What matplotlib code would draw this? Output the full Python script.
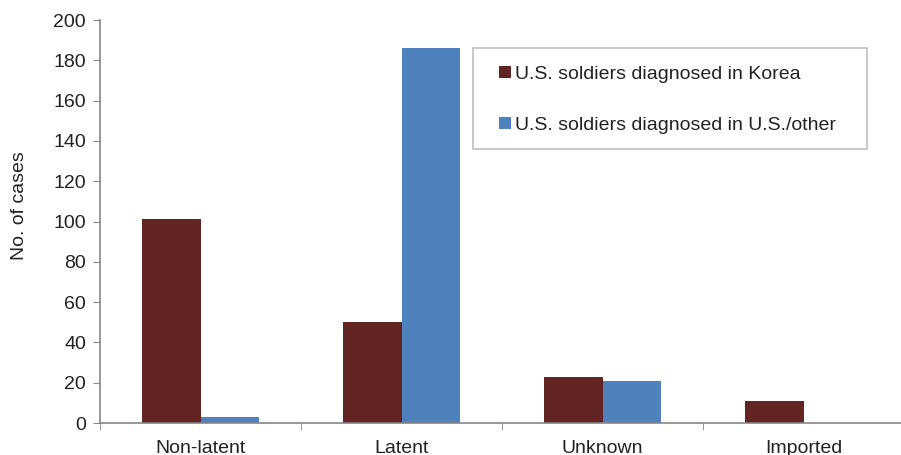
import matplotlib.pyplot as plt
from matplotlib.patches import Rectangle
import numpy as np

plt.rcParams['font.family'] = ['Liberation Sans', 'DejaVu Sans']

# Данные
categories = ['Non-latent', 'Latent', 'Unknown', 'Imported']
korea = [101, 50, 23, 11]
us_other = [3, 186, 21, 0]
series_names = ['U.S. soldiers diagnosed in Korea', 'U.S. soldiers diagnosed in U.S./other']

maroon = '#632523'
blue = '#4F81BD'
axis_grey = '#868686'
text_col = '#222222'
fs = 14

W, H = 901, 455
fig = plt.figure(figsize=(W / 100, H / 100), dpi=100)
ax = fig.add_axes([100 / W, 32 / H, 804 / W, 403 / H])

x = np.arange(len(categories)) + 0.5
w = 0.29
ax.bar(x - w / 2, korea, w, color=maroon, label=series_names[0])
ax.bar(x + w / 2, us_other, w, color=blue, label=series_names[1])

ax.set_xlim(0, len(categories))
ax.set_ylim(0, 200)
ax.set_yticks(np.arange(0, 201, 20))
ax.set_xticks(x)
ax.set_xticklabels(categories)
ax.set_xticks(np.arange(0, len(categories) + 1), minor=True)
ax.tick_params(axis='x', which='major', length=0, pad=12, labelsize=fs, colors=text_col)
ax.tick_params(axis='x', which='minor', length=5, color=axis_grey, direction='out')
ax.tick_params(axis='y', length=5, color=axis_grey, labelsize=fs, labelcolor=text_col, pad=5)

for s in ['top', 'right']:
    ax.spines[s].set_visible(False)
for s in ['left', 'bottom']:
    ax.spines[s].set_color(axis_grey)
    ax.spines[s].set_linewidth(1.2)

ax.set_ylabel('No. of cases', fontsize=fs, color=text_col, va='center')
ax.yaxis.set_label_coords(-0.1, 0.54)

# рамка легенды отдельно (в оригинале она шире текста)
fig.patches.append(Rectangle((473 / W, 1 - 149 / H), (867 - 473) / W, (149 - 48) / H,
                             transform=fig.transFigure, fill=False,
                             edgecolor='#BFBFBF', linewidth=1.2))
leg = fig.legend(loc='upper left', bbox_to_anchor=(499 / W, 1 - 66 / H),
                 fontsize=fs, frameon=False,
                 handlelength=0.6, handleheight=0.6, handletextpad=0.2,
                 labelspacing=1.75, borderpad=0, borderaxespad=0)
for t in leg.get_texts():
    t.set_color(text_col)

fig.savefig('out.png', dpi=100)
